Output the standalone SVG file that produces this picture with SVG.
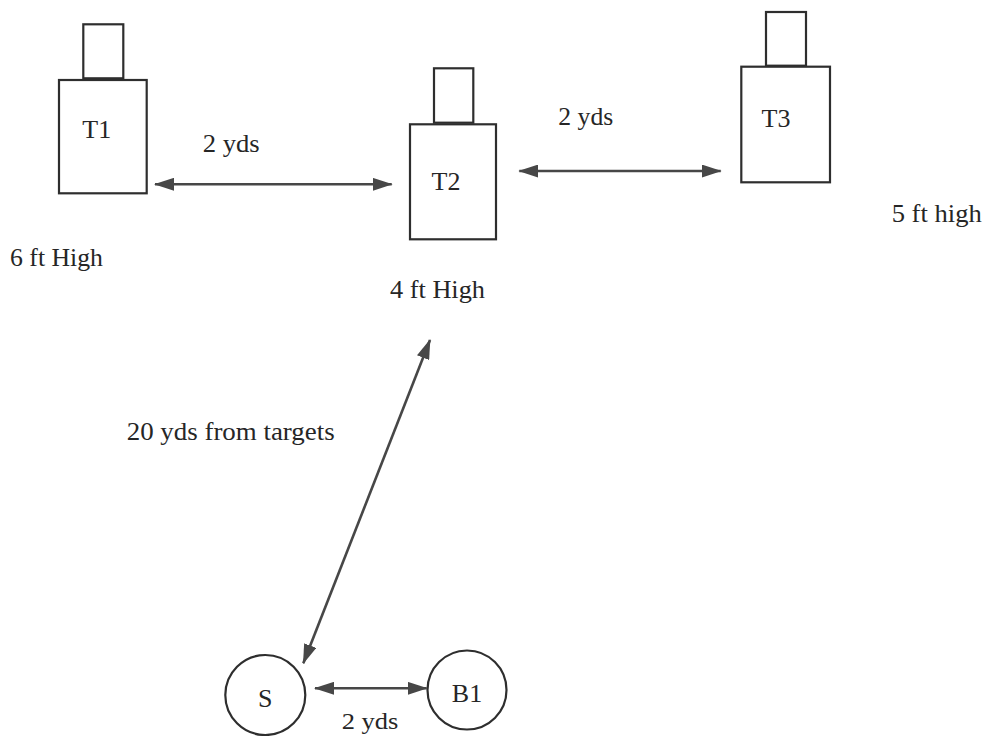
<svg xmlns="http://www.w3.org/2000/svg" width="986" height="736" viewBox="0 0 986 736">
<style>
.box{fill:#fff;stroke:#2e2e2e;stroke-width:2.2}
.circ{fill:#fff;stroke:#2e2e2e;stroke-width:2.2}
.lbl{font-family:"Liberation Serif","Times New Roman",serif;font-size:26px;fill:#262626}
.arr{stroke:#474747;stroke-width:2.6;fill:none;marker-start:url(#ah);marker-end:url(#ah)}
</style>
<defs>
<marker id="ah" viewBox="0 0 20 13" refX="19" refY="6.5" markerWidth="20" markerHeight="13" markerUnits="userSpaceOnUse" orient="auto-start-reverse">
<path d="M0,0 L20,6.5 L0,13 Z" fill="#474747"/>
</marker>
</defs>
<rect width="986" height="736" fill="#fff"/>
<g id="T1">
<rect class="box" x="83.3" y="24.3" width="40" height="54"/>
<rect class="box" x="59" y="80" width="87.7" height="113.3"/>
<text class="lbl" x="96.7" y="138" text-anchor="middle">T1</text>
</g>
<g id="T2">
<rect class="box" x="434" y="68.3" width="39.3" height="54.4"/>
<rect class="box" x="410" y="124.3" width="86" height="115"/>
<text class="lbl" x="446" y="190" text-anchor="middle">T2</text>
</g>
<g id="T3">
<rect class="box" x="766" y="12" width="40" height="53.7"/>
<rect class="box" x="741.3" y="66.7" width="88.7" height="115.6"/>
<text class="lbl" x="776" y="126.7" text-anchor="middle">T3</text>
</g>
<g id="S">
<circle class="circ" cx="265.3" cy="695" r="40"/>
<text class="lbl" x="265.3" y="707" text-anchor="middle">S</text>
</g>
<g id="B1">
<circle class="circ" cx="467" cy="690" r="39.5"/>
<text class="lbl" x="467" y="702" text-anchor="middle">B1</text>
</g>
<g id="connectors">
<line class="arr" x1="155" y1="184.3" x2="391.7" y2="184.3"/>
<line class="arr" x1="519.3" y1="171" x2="720.7" y2="171"/>
<line class="arr" x1="315" y1="688.3" x2="426.7" y2="688.3"/>
<line class="arr" x1="303.3" y1="663.3" x2="430" y2="340"/>
</g>
<g id="labels">
<text class="lbl" x="202.7" y="151.7" textLength="57" lengthAdjust="spacingAndGlyphs">2 yds</text>
<text class="lbl" x="558.3" y="125" textLength="55" lengthAdjust="spacingAndGlyphs">2 yds</text>
<text class="lbl" x="10" y="266" textLength="93" lengthAdjust="spacingAndGlyphs">6 ft High</text>
<text class="lbl" x="390" y="298" textLength="95" lengthAdjust="spacingAndGlyphs">4 ft High</text>
<text class="lbl" x="891.7" y="221.7" textLength="90" lengthAdjust="spacingAndGlyphs">5 ft high</text>
<text class="lbl" x="126.7" y="440" textLength="208" lengthAdjust="spacingAndGlyphs">20 yds from targets</text>
<text class="lbl" x="341.7" y="729" textLength="56.6" lengthAdjust="spacingAndGlyphs" style="font-size:24px">2 yds</text>
</g>
</svg>
